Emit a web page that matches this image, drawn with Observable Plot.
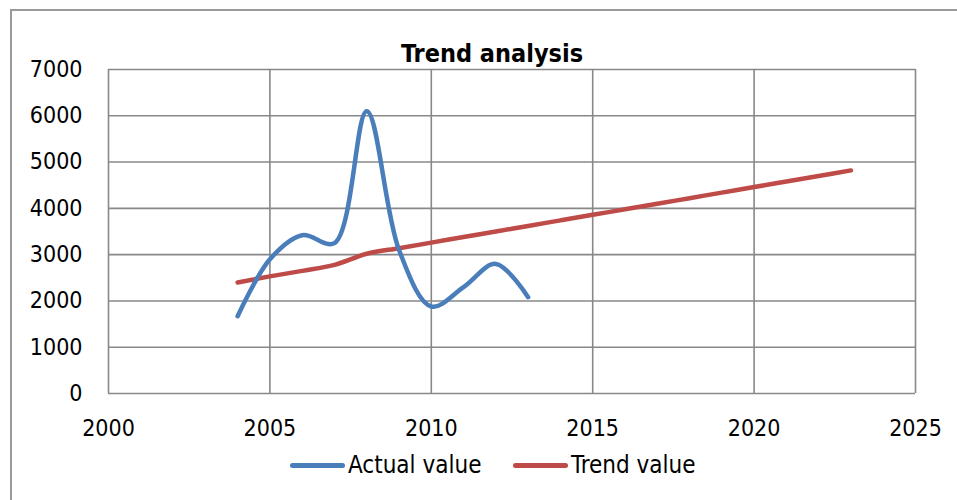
<!DOCTYPE html>
<html><head><meta charset="utf-8">
<script src="https://cdn.jsdelivr.net/npm/d3@7"></script>
<script src="https://cdn.jsdelivr.net/npm/@observablehq/plot@0.6"></script>
<style>
body{margin:0;background:#fff;font-family:"DejaVu Sans Condensed",sans-serif;}
#wrap{position:relative;width:957px;height:500px;overflow:hidden;}
#border{position:absolute;left:10px;top:9px;width:1000px;height:600px;border:2px solid #999;box-sizing:border-box;}
#title{position:absolute;left:0;width:984px;top:41px;line-height:25px;text-align:center;font-weight:bold;font-size:25px;color:#000;}
.lt{position:absolute;top:453px;line-height:24px;font-size:24px;color:#000;white-space:nowrap;}
.sw{position:absolute;top:463px;width:55px;height:5px;border-radius:3px;}
#chart{position:absolute;left:0;top:0;}
</style></head>
<body><div id="wrap"><div id="border"></div><div id="chart"></div><div id="title">Trend analysis</div>
<span class="sw" style="left:290px;background:#4a7ebb"></span><span class="lt" style="left:348px">Actual value</span>
<span class="sw" style="left:513px;background:#be4b48"></span><span class="lt" style="left:571px">Trend value</span>
</div>
<script>
const actualYears = [2004,2005,2006,2007,2008,2009,2010,2011,2012,2013];
const actualValues = [1670,2900,3420,3250,6100,3100,1880,2300,2800,2080];
const trendYears = [2004,2005,2006,2007,2008,2009,2010,2011,2012,2013,2014,2015,2016,2017,2018,2019,2020,2021,2022,2023];
const trendValues = [2400,2530,2650,2780,3020,3140,3260,3380,3500,3620,3740,3860,3980,4100,4220,4340,4460,4580,4700,4820];
const xTicks = [2000,2005,2010,2015,2020,2025];
const yTicks = [0,1000,2000,3000,4000,5000,6000,7000];

const actual = actualYears.map((x,i)=>({x, y: actualValues[i]}));
const trend = trendYears.map((x,i)=>({x, y: trendValues[i]}));

const chart = Plot.plot({
  width: 957, height: 500,
  marginLeft: 108, marginRight: 42, marginTop: 69, marginBottom: 107,
  style: {fontFamily: '"DejaVu Sans Condensed",sans-serif', fontSize: "22px", color: "#000", background: "transparent", overflow: "visible"},
  x: {domain: [2000, 2025], label: null},
  y: {domain: [0, 7000], label: null},
  marks: [
    Plot.gridX(xTicks, {stroke: "#888", strokeOpacity: 1, strokeWidth: 1.6}),
    Plot.gridY(yTicks, {stroke: "#888", strokeOpacity: 1, strokeWidth: 1.6}),
    Plot.axisX({ticks: xTicks, tickFormat: d => String(d), tickSize: 0, tickPadding: 26, label: null, fontSize: 23}),
    Plot.axisY({ticks: yTicks, tickFormat: d => String(d), tickSize: 0, tickPadding: 26, label: null, fontSize: 23}),
    Plot.line(trend, {x: "x", y: "y", stroke: "#be4b48", strokeWidth: 4.5, curve: "catmull-rom"}),
    Plot.line(actual, {x: "x", y: "y", stroke: "#4a7ebb", strokeWidth: 4.5, curve: "catmull-rom"})
  ]
});
document.getElementById("chart").appendChild(chart);
</script></body></html>
